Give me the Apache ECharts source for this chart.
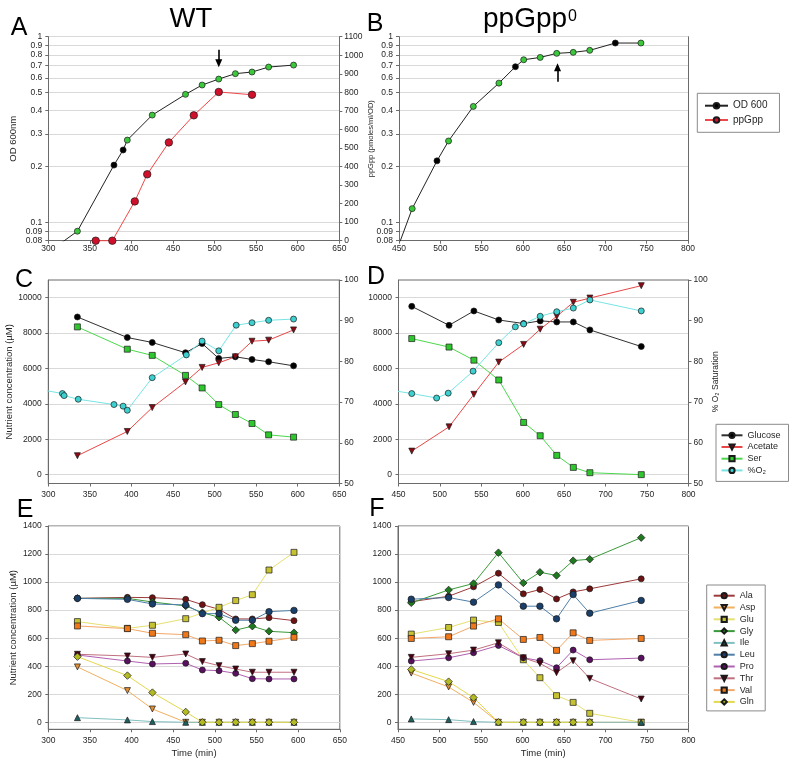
<!DOCTYPE html>
<html><head><meta charset="utf-8">
<script src="https://cdn.jsdelivr.net/npm/echarts@6/dist/echarts.min.js"></script>
<style>html,body{margin:0;padding:0;background:#fff}#c{width:800px;height:764px}</style>
</head><body><div id="c"></div><script>
const FF = 'Liberation Sans, Arial, Helvetica, sans-serif';

// ---------- Panel A: WT growth (OD 600) and ppGpp ----------
const wtOdTime = [305, 335, 379, 390, 395, 425, 465, 485, 505, 525, 545, 565, 595];
const wtOd = [0.072, 0.090, 0.204, 0.246, 0.278, 0.379, 0.490, 0.550, 0.592, 0.633, 0.646, 0.687, 0.704];
const wtOdSampled = [1, 1, 0, 0, 1, 1, 1, 1, 1, 1, 1, 1, 1];
const wtPpgppTime = [357, 377, 404, 419, 445, 475, 505, 545];
const wtPpgpp = [0, 0, 212, 358, 530, 676, 802, 787];

// ---------- Panel B: ppGpp0 growth ----------
const mutOdTime = [440, 466, 496, 510, 540, 571, 591, 601, 621, 641, 661, 681, 712, 743];
const mutOd = [0.058, 0.119, 0.215, 0.275, 0.422, 0.563, 0.690, 0.752, 0.774, 0.814, 0.824, 0.845, 0.925, 0.925];
const mutOdSampled = [1, 1, 0, 1, 1, 1, 0, 1, 1, 1, 1, 1, 0, 1];

// arrows (time, OD from, OD to)
const arrowA = [505, 0.85, 0.72];
const arrowB = [642, 0.573, 0.685];

// ---------- Panels C/E sampling times (WT) ----------
const wtTime = [335, 395, 425, 465, 485, 505, 525, 545, 565, 595];
const wtGlucose = [8910, 7750, 7470, 6890, 7410, 6570, 6660, 6510, 6380, 6150];
const wtAcetate = [1070, 2440, 3790, 5240, 6060, 6320, 6660, 7540, 7600, 8180];
const wtSer = [8350, 7090, 6740, 5610, 4900, 3960, 3400, 2890, 2250, 2120];
const wtO2Time = [290, 317, 319, 336, 379, 390, 395, 425, 466, 485, 505, 526, 545, 565, 595];
const wtO2 = [73.1, 72.1, 71.6, 70.7, 69.4, 69.0, 68.0, 76.0, 81.6, 85.0, 82.6, 88.9, 89.5, 90.1, 90.4];

// ---------- Panels D/F sampling times (ppGpp0) ----------
const mutTime = [466, 511, 541, 571, 601, 621, 641, 661, 681, 743];
const mutGlucose = [9510, 8440, 9250, 8740, 8540, 8690, 8630, 8630, 8180, 7240];
const mutAcetate = [1330, 2700, 4540, 6360, 7360, 8220, 8950, 9740, 9980, 10680];
const mutSer = [7690, 7210, 6470, 5350, 2950, 2200, 1090, 410, 110, 0];
const mutO2Time = [440, 466, 496, 510, 540, 571, 591, 601, 621, 641, 661, 681, 743];
const mutO2 = [72.95, 72.1, 71.0, 72.2, 77.6, 84.6, 88.5, 89.2, 91.1, 92.2, 93.1, 95.1, 92.4];

// ---------- Panel E amino acids (WT) ----------
const wtAla = [884, 891, 889, 877, 839, 806, 737, 737, 746, 725];
const wtAsp = [395, 226, 95, 0, 0, 0, 0, 0, 0, 0];
const wtGlu = [718, 670, 692, 739, null, 820, 868, 910, 1086, 1212];
const wtGly = [884, 884, 858, 830, 782, 749, 658, 685, 649, 639];
const wtIle = [33, 17, 5, 0, 0, 0, 0, 0, 0, 0];
const wtLeu = [884, 877, 844, 837, 775, 775, 728, 728, 789, 798];
const wtPro = [480, 437, 416, 421, 373, 368, 349, 311, 309, 309];
const wtThr = [485, 473, 463, 487, 433, 404, 380, 357, 357, 357];
const wtVal = [687, 668, 635, 625, 580, 585, 547, 561, 578, 606];
const wtGln = [468, 333, 212, 74, 0, 0, 0, 0, 0, 0];

// ---------- Panel F amino acids (ppGpp0) ----------
const mutAla = [860, 899, 966, 1063, 916, 947, 880, 930, 952, 1023];
const mutAsp = [351, 252, 142, 0, 0, 0, 0, 0, 0, 0];
const mutGlu = [629, 676, 729, 712, 446, 318, 190, 142, 64, 0];
const mutGly = [852, 944, 990, 1210, 994, 1070, 1047, 1153, 1163, 1317];
const mutIle = [24, 19, 5, 0, 0, 0, 0, 0, 0, 0];
const mutLeu = [878, 890, 857, 980, 828, 828, 738, 911, 778, 869];
const mutPro = [437, 460, 496, 548, 460, 439, 389, 515, 446, 458];
const mutThr = [463, 489, 515, 567, 460, 420, 354, 439, 313, 166];
const mutVal = [598, 610, 686, 738, 591, 605, 513, 638, 584, 598];
const mutGln = [377, 290, 176, 0, 0, 0, 0, 0, 0, null];

// ---------- tick labels ----------
const odTicks = [0.08, 0.09, 0.1, 0.2, 0.3, 0.4, 0.5, 0.6, 0.7, 0.8, 0.9];
const odTopTick = [1];
const nutrientTicks = [0, 2000, 4000, 6000, 8000, 10000];
const aaTicks = [0, 200, 400, 600, 800, 1000, 1200, 1400];

const aaNames = ['Ala', 'Asp', 'Glu', 'Gly', 'Ile', 'Leu', 'Pro', 'Thr', 'Val', 'Gln'];
const nutNames = ['Glucose', 'Acetate', 'Ser', '%O\u2082'];

// ---------- styles ----------
const AXC = '#6b6b6b', LBL = '#262626', GRIDC = '#d9d9d9';
const aaStyle = {
  Ala: {symbol: 'circle', size: 6, fill: '#6e1212', line: '#9c3a3a'},
  Asp: {symbol: 'triangle', rotate: 180, size: 6, fill: '#e09038', line: '#f2b060'},
  Glu: {symbol: 'rect', size: 6, fill: '#c6c232', line: '#e6e070'},
  Gly: {symbol: 'diamond', size: 7.5, fill: '#1f7a1f', line: '#3a9a3a'},
  Ile: {symbol: 'triangle', size: 6, fill: '#1f6060', line: '#80c0c0'},
  Leu: {symbol: 'circle', size: 6.5, fill: '#1a3f6a', line: '#4f7fa8'},
  Pro: {symbol: 'circle', size: 6, fill: '#5a1060', line: '#b060b0'},
  Thr: {symbol: 'triangle', rotate: 180, size: 6, fill: '#4a0010', line: '#c07080'},
  Val: {symbol: 'rect', size: 6, fill: '#f07818', line: '#f4a868'},
  Gln: {symbol: 'diamond', size: 7.5, fill: '#b4ba24', line: '#e4d84c'}
};
const nutStyle = {
  'Glucose': {symbol: 'circle', size: 6, fill: '#000000', line: '#303030'},
  'Acetate': {symbol: 'triangle', rotate: 180, size: 6, fill: '#8b0a14', line: '#e84848'},
  'Ser': {symbol: 'rect', size: 6, fill: '#2ec82e', line: '#4cd84c'},
  '%O\u2082': {symbol: 'circle', size: 6, fill: '#3cd0d0', line: '#78e4e4'}
};
const GREEN = '#3cc83c';

function pairs(t, v) {
  const out = [];
  for (let i = 0; i < t.length; i++) if (v[i] != null) out.push([t[i], v[i]]);
  return out;
}
function lineSeries(name, xi, yi, data, st, extra) {
  return Object.assign({
    type: 'line', name: name, xAxisIndex: xi, yAxisIndex: yi, data: data,
    symbol: st.symbol, symbolSize: st.size, symbolRotate: st.rotate || 0,
    showAllSymbol: true, clip: false, animation: false, silent: true,
    lineStyle: {color: st.line, width: 1},
    itemStyle: {color: st.fill, borderColor: '#1a1a1a', borderWidth: 0.7},
    emphasis: {disabled: true}
  }, extra || {});
}
function odData(t, v, flag) {
  return t.map((x, i) => ({value: [x, v[i]], itemStyle: {color: flag[i] ? GREEN : '#000'}}));
}
function arrowLine(a) {
  return {
    silent: true, animation: false, symbol: ['none', 'triangle'], symbolSize: [7, 8],
    lineStyle: {color: '#000', width: 1.6, type: 'solid'}, label: {show: false},
    emphasis: {disabled: true},
    data: [[{coord: [a[0], a[1]]}, {coord: [a[0], a[2]]}]]
  };
}

const grids = [
  {left: 48.3, top: 36.7, width: 291, height: 204},
  {left: 399, top: 36.7, width: 289, height: 204},
  {left: 48.3, top: 280, width: 291, height: 203.5},
  {left: 398.5, top: 280, width: 290, height: 203.5},
  {left: 48.3, top: 526, width: 291.5, height: 203.3},
  {left: 398, top: 526, width: 290.5, height: 203.3}
].map((g, i) => Object.assign(g, {
  outerBoundsMode: 'none', containLabel: false,
  show: i >= 2, borderColor: AXC, borderWidth: 1, backgroundColor: 'transparent'
}));

const lblBase = {fontSize: 8.5, fontFamily: FF, color: LBL, hideOverlap: false};
const nameBase = {fontSize: 9.5, fontFamily: FF, color: LBL};

function xAx(gi, min, max, margin, name) {
  return {
    gridIndex: gi, type: 'value', min: min, max: max, interval: 50,
    axisLine: {show: true, onZero: false, lineStyle: {color: AXC, width: 1}},
    axisTick: {show: true, length: 3, lineStyle: {color: AXC}},
    axisLabel: Object.assign({margin: margin, formatter: v => String(v)}, lblBase),
    splitLine: {show: false},
    name: name || '', nameLocation: 'middle', nameGap: 19, nameTextStyle: nameBase
  };
}
function logAx(gi, name, ticks, showLine) {
  return {
    gridIndex: gi, type: 'log', logBase: 10, min: 0.08, max: 1.0005, position: 'left',
    axisLine: {show: showLine, onZero: false, lineStyle: {color: AXC, width: 1}},
    axisTick: {show: true, length: 3, lineStyle: {color: AXC}, customValues: ticks},
    axisLabel: Object.assign({}, lblBase, {margin: 6, customValues: ticks,
      showMaxLabel: true, showMinLabel: true, formatter: v => String(+(+v).toFixed(2))}),
    splitLine: {show: true, showMaxLine: true, showMinLine: true, lineStyle: {color: GRIDC, width: 1}},
    minorTick: {show: false}, minorSplitLine: {show: false},
    name: name || '', nameLocation: 'middle', nameGap: 30, nameTextStyle: nameBase
  };
}
function leftAx(gi, min, max, ticks, name) {
  return {
    gridIndex: gi, type: 'value', min: min, max: max, position: 'left',
    axisLine: {show: true, onZero: false, lineStyle: {color: AXC, width: 1}},
    axisTick: {show: true, length: 3, lineStyle: {color: AXC}, customValues: ticks},
    axisLabel: Object.assign({margin: 6.5, customValues: ticks, formatter: v => String(v)}, lblBase),
    splitLine: {show: true, lineStyle: {color: GRIDC, width: 1}},
    name: name || '', nameLocation: 'middle', nameGap: 30, nameTextStyle: nameBase
  };
}
function rightAx(gi, min, max, interval, name, gap, nfs) {
  return {
    gridIndex: gi, type: 'value', min: min, max: max, interval: interval, position: 'right',
    axisLine: {show: true, onZero: false, lineStyle: {color: AXC, width: 1}},
    axisTick: {show: true, length: 3, lineStyle: {color: AXC}},
    axisLabel: Object.assign({margin: 5, formatter: v => String(v)}, lblBase),
    splitLine: {show: false},
    name: name || '', nameLocation: 'middle', nameGap: gap || 24,
    nameTextStyle: {fontSize: nfs || 8, fontFamily: FF, color: LBL}
  };
}

const xAxes = [
  xAx(0, 300, 650, 3.5), xAx(1, 450, 800, 3.5),
  xAx(2, 300, 650, 7), xAx(3, 450, 800, 7),
  xAx(4, 300, 650, 7, 'Time (min)'), xAx(5, 450, 800, 7, 'Time (min)')
];
const yAxes = [
  logAx(0, 'OD 600nm', odTicks, true),                            // 0
  rightAx(0, 0, 1100, 100, 'ppGpp (pmoles/ml/OD)', 23, 7.5),      // 1
  logAx(1, '', odTicks, true),                                    // 2
  {gridIndex: 1, type: 'log', logBase: 10, min: 0.08, max: 1.0005, position: 'right',
   axisLine: {show: true, onZero: false, lineStyle: {color: AXC}}, axisTick: {show: false},
   axisLabel: {show: false}, splitLine: {show: false}},          // 3
  leftAx(2, -500, 11000, nutrientTicks, 'Nutrient concentration (\u00b5M)'), // 4
  rightAx(2, 50, 100, 10, ''),                                    // 5
  leftAx(3, -500, 11000, nutrientTicks, ''),                      // 6
  rightAx(3, 50, 100, 10, '% O\u2082 Saturation', 21, 8.5),       // 7
  leftAx(4, -50, 1400, aaTicks, 'Nutrient concentration (\u00b5M)'), // 8
  leftAx(5, -50, 1400, aaTicks, ''),                              // 9
  logAx(0, '', odTopTick, false),                                 // 10 (top label of A)
  logAx(1, '', odTopTick, false)                                  // 11 (top label of B)
];

const series = [];
// Panel A
series.push(lineSeries('OD 600', 0, 0, odData(wtOdTime, wtOd, wtOdSampled),
  {symbol: 'circle', size: 6, fill: '#000', line: '#222'}, {clip: true, markLine: arrowLine(arrowA)}));
series.push(lineSeries('ppGpp', 0, 1, pairs(wtPpgppTime, wtPpgpp),
  {symbol: 'circle', size: 7.5, fill: '#d0102a', line: '#f04848'}));
// Panel B
series.push(lineSeries('OD 600', 1, 2, odData(mutOdTime, mutOd, mutOdSampled),
  {symbol: 'circle', size: 6, fill: '#000', line: '#222'}, {clip: true, markLine: arrowLine(arrowB)}));
// Panel C
const nutWt = {'Glucose': wtGlucose, 'Acetate': wtAcetate, 'Ser': wtSer};
const nutMut = {'Glucose': mutGlucose, 'Acetate': mutAcetate, 'Ser': mutSer};
['Glucose', 'Acetate', 'Ser'].forEach(n => series.push(lineSeries(n, 2, 4, pairs(wtTime, nutWt[n]), nutStyle[n])));
series.push(lineSeries('%O\u2082', 2, 5, pairs(wtO2Time, wtO2), nutStyle['%O\u2082'], {clip: true}));
// Panel D
['Glucose', 'Acetate', 'Ser'].forEach(n => series.push(lineSeries(n, 3, 6, pairs(mutTime, nutMut[n]), nutStyle[n])));
series.push(lineSeries('%O\u2082', 3, 7, pairs(mutO2Time, mutO2), nutStyle['%O\u2082'], {clip: true}));
// Panels E, F
const aaWt = {Ala: wtAla, Asp: wtAsp, Glu: wtGlu, Gly: wtGly, Ile: wtIle, Leu: wtLeu, Pro: wtPro, Thr: wtThr, Val: wtVal, Gln: wtGln};
const aaMut = {Ala: mutAla, Asp: mutAsp, Glu: mutGlu, Gly: mutGly, Ile: mutIle, Leu: mutLeu, Pro: mutPro, Thr: mutThr, Val: mutVal, Gln: mutGln};
aaNames.forEach(n => series.push(lineSeries(n, 4, 8, pairs(wtTime, aaWt[n]), aaStyle[n])));
aaNames.forEach(n => series.push(lineSeries(n, 5, 9, pairs(mutTime, aaMut[n]), aaStyle[n])));

const legBase = {orient: 'vertical', selectedMode: false, borderColor: '#8a8a8a', borderWidth: 1,
  backgroundColor: '#fff', inactiveColor: '#ccc'};
const legends = [
  Object.assign({data: ['OD 600', 'ppGpp'], left: 697.3, top: 93.3, itemWidth: 23, itemHeight: 7,
    itemGap: 4.3, padding: [7.4, 12, 7.3, 6.7], textStyle: {fontSize: 10, fontFamily: FF, color: LBL}}, legBase),
  Object.assign({data: nutNames, left: 716, top: 424.3, itemWidth: 21, itemHeight: 6.5,
    itemGap: 2.7, padding: [6.5, 8, 6.5, 4.5], textStyle: {fontSize: 9, fontFamily: FF, color: LBL}}, legBase),
  Object.assign({data: aaNames, left: 706.7, top: 585, itemWidth: 21, itemHeight: 6.5,
    itemGap: 2.8, padding: [6.2, 10, 4.5, 6], textStyle: {fontSize: 9, fontFamily: FF, color: LBL}}, legBase)
];

function txt(x, y, text, size, align) {
  return {type: 'text', x: x, y: y, silent: true,
    style: {text: text, fontSize: size, fontFamily: FF, fill: '#000', align: align || 'center', verticalAlign: 'middle'}};
}
const graphics = [
  txt(19, 28.5, 'A', 25), txt(375, 24.5, 'B', 25),
  txt(24, 280, 'C', 25), txt(376, 277.5, 'D', 25),
  txt(25, 510.5, 'E', 25), txt(377, 509.5, 'F', 25),
  txt(191, 19, 'WT', 27.5),
  txt(483, 19.5, 'ppGpp', 28, 'left'),
  txt(568, 17, '0', 16, 'left')
];

const chart = echarts.init(document.getElementById('c'), null, {renderer: 'canvas'});
chart.setOption({
  animation: false,
  backgroundColor: '#fff',
  textStyle: {fontFamily: FF},
  grid: grids,
  xAxis: xAxes,
  yAxis: yAxes,
  legend: legends,
  graphic: graphics,
  series: series
});
</script></body></html>
